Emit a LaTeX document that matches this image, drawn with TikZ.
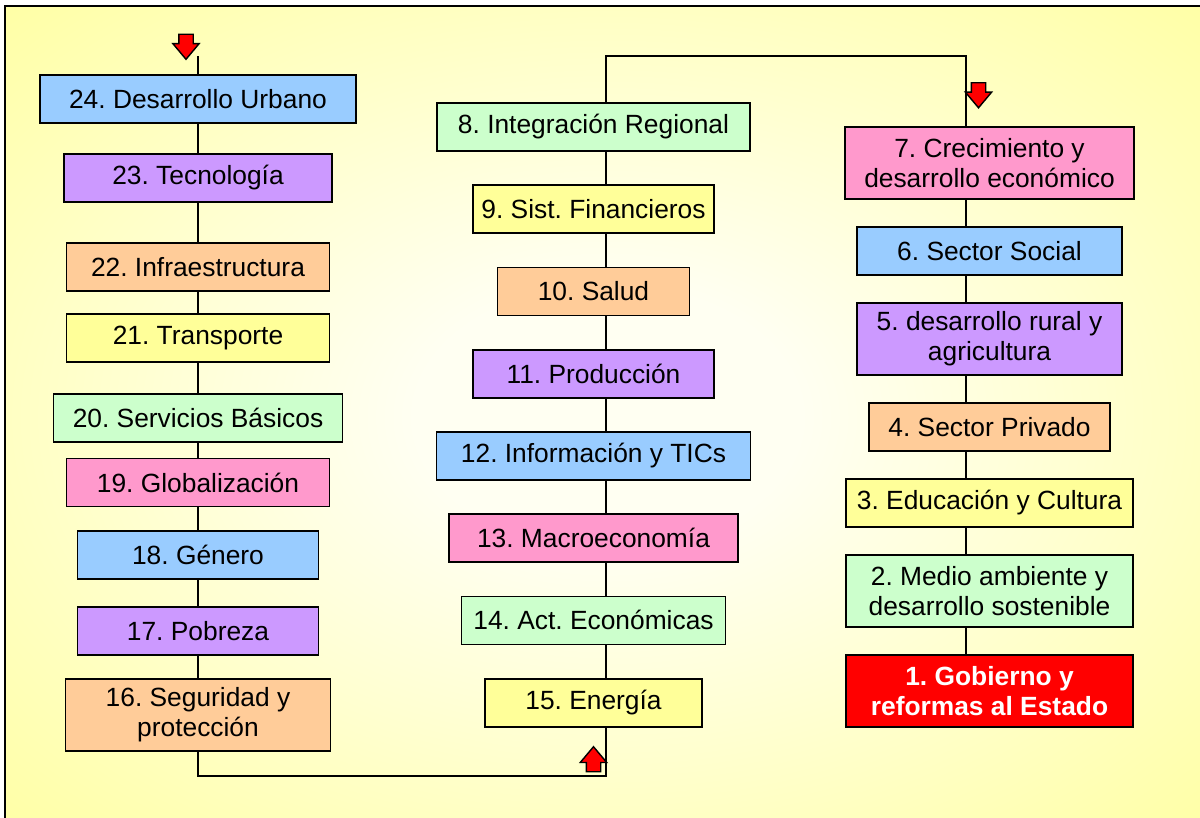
\documentclass[tikz,border=0pt]{standalone}
\usepackage{fontspec}
\setmainfont{Liberation Sans}
\usepackage{tikz}
\usetikzlibrary{positioning,shapes.arrows,backgrounds}

\definecolor{cblue}{HTML}{99CCFF}
\definecolor{cpurple}{HTML}{CC99FF}
\definecolor{corange}{HTML}{FFCC99}
\definecolor{cyellow}{HTML}{FFFF99}
\definecolor{cgreen}{HTML}{CCFFCC}
\definecolor{cpink}{HTML}{FF99CC}
\definecolor{cred}{HTML}{FF0000}
\definecolor{bgyellow}{HTML}{FFFF99}
\definecolor{bgpale}{HTML}{FFFFF2}

\pgfdeclareradialshading{bgglow}{\pgfpoint{0bp}{0bp}}{color(0bp)=(bgpale); color(8bp)=(bgpale); color(40bp)=(bgyellow); color(100bp)=(bgyellow)}

\begin{document}
\frenchspacing
\begin{tikzpicture}[x=0.02cm,y=-0.02cm,node distance=1.645cm,on grid,
    box/.style={draw,line width=1pt,minimum height=0.96cm,inner sep=2pt,align=center,font=\fontsize{15}{17}\selectfont\frenchspacing},
    tall/.style={minimum height=1.44cm},
    marker/.style={single arrow,draw,line width=0.8pt,fill=cred,minimum height=0.5cm,minimum width=0.5cm,single arrow head extend=0.12cm,single arrow tip angle=80,inner sep=0.13cm}]
    \useasboundingbox (0,0) rectangle (1200,818);
    % left column
    \node[box,fill=cblue,minimum width=6.32cm] (n24) at (198,99) {24. Desarrollo Urbano};
    \node[box,fill=cpurple,minimum width=5.36cm] (n23) [below = 1.58cm of n24]{23. Tecnología};
    \node[box,fill=corange,minimum width=5.26cm] (n22) [below = 1.78cm of n23]{22. Infraestructura};
    \node[box,fill=cyellow,minimum width=5.26cm] (n21) [below = 1.42cm of n22]{21. Transporte};
    \node[box,fill=cgreen,minimum width=5.78cm] (n20) [below = 1.60cm of n21]{20. Servicios Básicos};
    \node[box,fill=cpink,minimum width=5.26cm] (n19) [below = 1.29cm of n20]{19. Globalización};
    \node[box,fill=cblue,minimum width=4.82cm] (n18) [below = 1.45cm of n19]{18. Género};
    \node[box,fill=cpurple,minimum width=4.82cm] (n17) [below = 1.52cm of n18]{17. Pobreza};
    \node[box,tall,fill=corange,minimum width=5.3cm] (n16) [below = 1.68cm of n17]{16. Seguridad y\\protección};
    % middle column
    \node[box,fill=cgreen,minimum width=6.26cm] (n8) at (593.5,127) {8. Integración Regional};
    \node[box,fill=cyellow,minimum width=4.82cm] (n9) [below = of n8]{9. Sist. Financieros};
    \node[box,fill=corange,minimum width=3.84cm] (n10) [below = of n9]{10. Salud};
    \node[box,fill=cpurple,minimum width=4.82cm] (n11) [below = of n10]{11. Producción};
    \node[box,fill=cblue,minimum width=6.28cm] (n12) [below = of n11]{12. Información y TICs};
    \node[box,fill=cpink,minimum width=5.78cm] (n13) [below = of n12]{13. Macroeconomía};
    \node[box,fill=cgreen,minimum width=5.28cm] (n14) [below = of n13]{14. Act. Económicas};
    \node[box,fill=cyellow,minimum width=4.34cm] (n15) [below = of n14]{15. Energía};
    % right column
    \node[box,tall,fill=cpink,minimum width=5.78cm] (n7) at (989.5,163) {7. Crecimiento y\\desarrollo económico};
    \node[box,fill=cblue,minimum width=5.3cm] (n6) [below = 1.76cm of n7]{6. Sector Social};
    \node[box,tall,fill=cpurple,minimum width=5.3cm] (n5) [below = 1.76cm of n6]{5. desarrollo rural y\\agricultura};
    \node[box,fill=corange,minimum width=4.82cm] (n4) [below = 1.76cm of n5]{4. Sector Privado};
    \node[box,fill=cyellow,minimum width=5.74cm] (n3) [below = 1.52cm of n4]{3. Educación y Cultura};
    \node[box,tall,fill=cgreen,minimum width=5.74cm] (n2) [below = 1.76cm of n3]{2. Medio ambiente y\\desarrollo sostenible};
    \node[box,tall,fill=cred,text=white,minimum width=5.74cm,font=\fontsize{15}{17}\selectfont\bfseries\frenchspacing] (n1) [below = 2.0cm of n2]{1. Gobierno y\\reformas al Estado};
    % direction marks
    \node[marker,shape border rotate=270] (inL) at (186,42.5) {};
    \node[marker,shape border rotate=270] (inR) at (978.5,91) {};
    \node[marker,shape border rotate=90] (inM) at (593.5,763.5) {};
    % path behind the boxes
    \coordinate (topL) at (198,56);
    \coordinate (botL) at (198,776);
    \coordinate (botM) at (606,776);
    \coordinate (topM) at (606,56);
    \coordinate (topR) at (966,56);
    \begin{scope}[on background layer]
        \shade[shading=bgglow] (5,6) rectangle (1210,828);
        \draw[line width=1pt] (topL) -- (botL) -- (botM) -- (topM) -- (topR) -- (topR |- n1.north);
    \end{scope}
    \draw[line width=1.5pt] (5,6) rectangle (1210,828);
\end{tikzpicture}
\end{document}
